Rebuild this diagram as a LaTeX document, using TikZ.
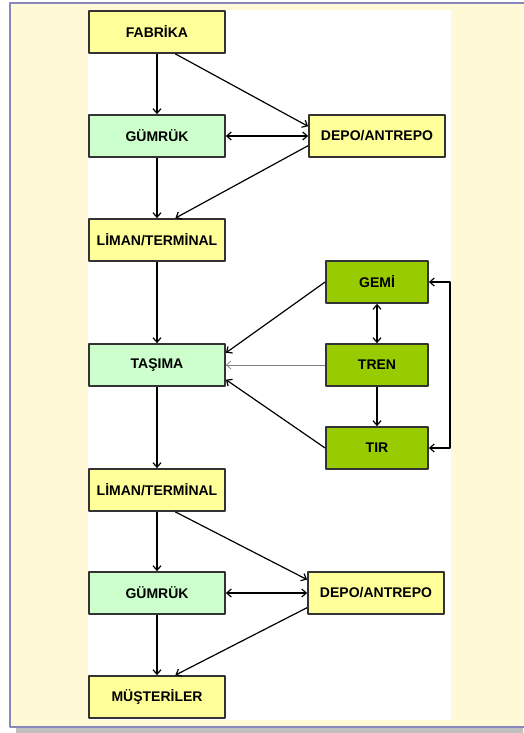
\documentclass[tikz,border=0pt]{standalone}
\usepackage{fontspec}
\setmainfont{Liberation Sans}
\usetikzlibrary{arrows.meta}
\definecolor{zemin}{RGB}{255,249,216}
\definecolor{cerceve}{RGB}{136,136,190}
\definecolor{sari}{RGB}{255,255,153}
\definecolor{acikyesil}{RGB}{204,255,204}
\definecolor{yesil}{RGB}{153,204,0}
\tikzset{
	kutu/.style={draw=black!80, line width=1.8pt, minimum width=136pt, minimum height=42pt, inner sep=0pt, font=\fontsize{14}{16}\selectfont\bfseries},
	sarikutu/.style={kutu, fill=sari},
	acikkutu/.style={kutu, fill=acikyesil},
	arac/.style={kutu, fill=yesil, minimum width=102pt},
	ok/.style={->, line width=1.2pt}
}
\begin{document}
\begin{tikzpicture}[x=1pt, y=-1pt, >={Straight Barb[length=4.5pt,width=8pt]}, line join=round]
	\useasboundingbox (0,0) rectangle (523,733);
	% cerceve ve zemin
	\fill[black!25] (16,727) rectangle (523,733);
	\draw[fill=zemin, draw=cerceve, line width=1.4pt] (10,3) rectangle (530,727);
	\fill[white] (88,10) rectangle (451,720);
	% kutular
	\node[sarikutu] (fab) at (157,32) {FABR\.IKA};
	\node[acikkutu] (gum1) at (157,136) {GÜMRÜK};
	\node[sarikutu] (depo1) at (377,136) {DEPO/ANTREPO};
	\node[sarikutu] (lim1) at (157,240) {L\.IMAN/TERM\.INAL};
	\node[arac] (gem) at (377,282) {GEM\.I};
	\node[acikkutu] (tas) at (157,365) {TAŞIMA};
	\node[arac] (tren) at (377,365) {TREN};
	\node[arac] (tir) at (377,448) {TIR};
	\node[sarikutu] (lim2) at (157,490) {L\.IMAN/TERM\.INAL};
	\node[acikkutu] (gum2) at (157,593) {GÜMRÜK};
	\node[sarikutu] (depo2) at (376,593) {DEPO/ANTREPO};
	\node[sarikutu] (must) at (157,697) {MÜŞTER\.ILER};
	% ust bolum
	\draw[ok] (fab) -- (gum1);
	\draw[ok] (fab.-50) -- (depo1.172);
	\draw[ok, <->] (gum1) -- (depo1);
	\draw[ok] (gum1) -- (lim1);
	\draw[ok] (depo1.188) -- (lim1.50);
	% tasima
	\draw[ok] (lim1) -- (tas);
	\draw[ok] (gem.west) -- (tas.10);
	\draw[->, gray, line width=0.7pt] (tren) -- (tas);
	\draw[ok] (tir.west) -- (tas.-12);
	\draw[ok, <->] (gem) -- (tren);
	\draw[ok] (tren) -- (tir);
	\draw[ok, <->] (gem.east) -- ++(21,0) |- (tir.east);
	\draw[ok] (tas) -- (lim2);
	% alt bolum
	\draw[ok] (lim2) -- (gum2);
	\draw[ok] (lim2.-50) -- (depo2.169);
	\draw[ok, <->] (gum2) -- (depo2);
	\draw[ok] (gum2) -- (must);
	\draw[ok] (depo2.-168) -- (must.50);
\end{tikzpicture}
\end{document}
